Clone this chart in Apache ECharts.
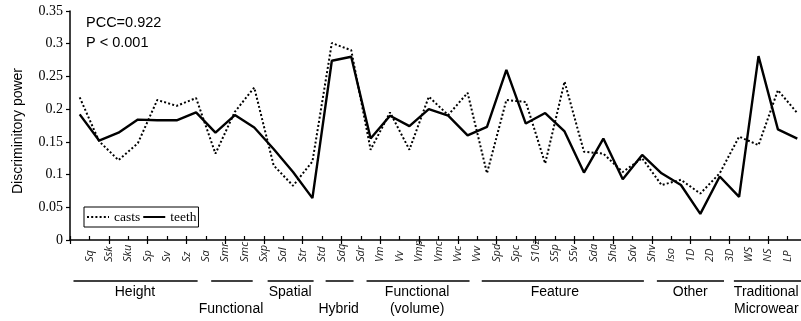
<!DOCTYPE html>
<html><head><meta charset="utf-8">
<script src="https://cdn.jsdelivr.net/npm/echarts@6/dist/echarts.min.js"></script>
<style>html,body{margin:0;padding:0;background:#fff}#c{width:801px;height:321px}</style>
</head><body><div id="c"></div>
<script>
const categories = ['Sq','Ssk','Sku','Sp','Sv','Sz','Sa','Smr','Smc','Sxp','Sal','Str','Std','Sdq','Sdr','Vm','Vv','Vmp','Vmc','Vvc','Vvv','Spd','Spc','S10z','S5p','S5v','Sda','Sha','Sdv','Shv','Iso','1D','2D','3D','WS','NS','LP','NP'];
const teeth = [0.192,0.152,0.164,0.184,0.183,0.183,0.195,0.164,0.191,0.172,0.139,0.104,0.064,0.274,0.280,0.155,0.190,0.174,0.200,0.190,0.160,0.173,0.260,0.178,0.194,0.166,0.103,0.155,0.093,0.130,0.102,0.084,0.040,0.097,0.066,0.281,0.169,0.155];
const casts = [0.218,0.151,0.122,0.148,0.214,0.205,0.217,0.132,0.196,0.233,0.114,0.083,0.120,0.301,0.290,0.138,0.195,0.138,0.219,0.191,0.225,0.102,0.214,0.211,0.117,0.242,0.135,0.132,0.104,0.125,0.084,0.092,0.071,0.102,0.158,0.145,0.229,0.194];
const yTickLabels = ['0','0.05','0.1','0.15','0.2','0.25','0.3','0.35'];
const groupNames = ['Height','Functional','Spatial','Hybrid','Functional\n(volume)','Feature','Other','Traditional\nMicrowear'];
const groupFrom = [0.18,7.28,10.19,13.18,15.29,21.23,30.26,34.23];
const groupTo = [6.58,9.42,12.56,14.62,20.6,29.59,33.72,38.6];
const groupTextAt = [3.35,8.3,11.35,13.85,17.9,25.0,31.98,35.9];
const groupRow = [0,1,0,1,0,0,0,0];
const annotation = ['PCC=0.922','P < 0.001'];
const yName = 'Discriminitory power';

const chart = echarts.init(document.getElementById('c'), null, {renderer:'canvas'});
const SANS = 'Liberation Sans';
const SERIF = 'Liberation Serif';
chart.setOption({
  animation:false,
  backgroundColor:'#fff',
  grid:{left:70, width:737, top:11, bottom:81, outerBoundsMode:'none', containLabel:false},
  legend:{
    data:['casts','teeth'], left:84, top:207, orient:'horizontal',
    padding:[3,2], itemGap:2, itemWidth:22, itemHeight:12,
    borderColor:'#000', borderWidth:1, backgroundColor:'#fff',
    itemStyle:{opacity:0},
    textStyle:{fontFamily:SERIF, fontSize:13.5, color:'#000'}
  },
  xAxis:[{
    type:'category', data:categories, boundaryGap:true,
    axisLine:{lineStyle:{color:'#000', width:1.5}},
    axisTick:{show:true, length:4, inside:false, lineStyle:{color:'#000', width:1.2}},
    axisLabel:{show:false}, splitLine:{show:false}
  },{
    type:'value', min:0, max:categories.length, interval:1, position:'bottom',
    axisLine:{show:false},
    axisTick:{show:true, length:4, inside:true, lineStyle:{color:'#000', width:1.2}},
    splitLine:{show:false},
    axisLabel:{
      rotate:90, align:'left', verticalAlign:'middle', margin:22,
      fontFamily:'Open Sans', fontStyle:'italic', fontSize:11, color:'#222',
      formatter:function(v){ const i=Math.round(v); return (i>=1 && i<=categories.length) ? categories[i-1] : ''; }
    }
  }],
  yAxis:{
    type:'value', min:0, max:0.35, interval:0.05,
    axisLine:{show:true, lineStyle:{color:'#000', width:1.5}},
    axisTick:{show:true, length:4, lineStyle:{color:'#000', width:1.2}},
    splitLine:{show:false},
    axisLabel:{fontFamily:SERIF, fontSize:14, color:'#000', margin:7,
      formatter:function(v){ const i=Math.round(v/0.05); return yTickLabels[i] !== undefined ? yTickLabels[i] : ''; }}
  },
  series:[{
    name:'casts', type:'line', data:casts, xAxisIndex:0, symbol:'none',
    lineStyle:{color:'#000', width:2, type:[2,2.2]}, itemStyle:{color:'#000'}
  },{
    name:'teeth', type:'line', data:teeth, xAxisIndex:0, symbol:'none',
    lineStyle:{color:'#000', width:2.4}, itemStyle:{color:'#000'}
  }]
});

const g = [];
g.push({type:'text', left:86, top:15, style:{text:annotation[0], font:'14.5px "'+SANS+'"', fill:'#000'}});
g.push({type:'text', left:86, top:35, style:{text:annotation[1], font:'14.5px "'+SANS+'"', fill:'#000'}});
g.push({type:'text', x:18, y:131, rotation:Math.PI/2,
  style:{text:yName, font:'14px "'+SANS+'"', fill:'#000', align:'center', verticalAlign:'middle'}});
const lineY = 281;
for (let k=0;k<groupNames.length;k++){
  const x1 = chart.convertToPixel({xAxisIndex:1}, groupFrom[k]);
  const x2 = chart.convertToPixel({xAxisIndex:1}, groupTo[k]);
  const xc = chart.convertToPixel({xAxisIndex:1}, groupTextAt[k]);
  g.push({type:'line', shape:{x1:x1, y1:lineY, x2:x2, y2:lineY}, style:{stroke:'#000', lineWidth:1.5}});
  g.push({type:'text', x:xc, y: groupRow[k] ? 309 : 292,
    style:{text:groupNames[k], font:'14px "'+SANS+'"', fill:'#000', align:'center', verticalAlign:'middle', lineHeight:17}});
}
g.forEach(function(e){ if(e.type==='text' && e.style.text && e.style.text.indexOf('\n')>=0){ e.style.verticalAlign='top'; e.y = 292-8.5; } });
chart.setOption({graphic:g});
</script></body></html>
